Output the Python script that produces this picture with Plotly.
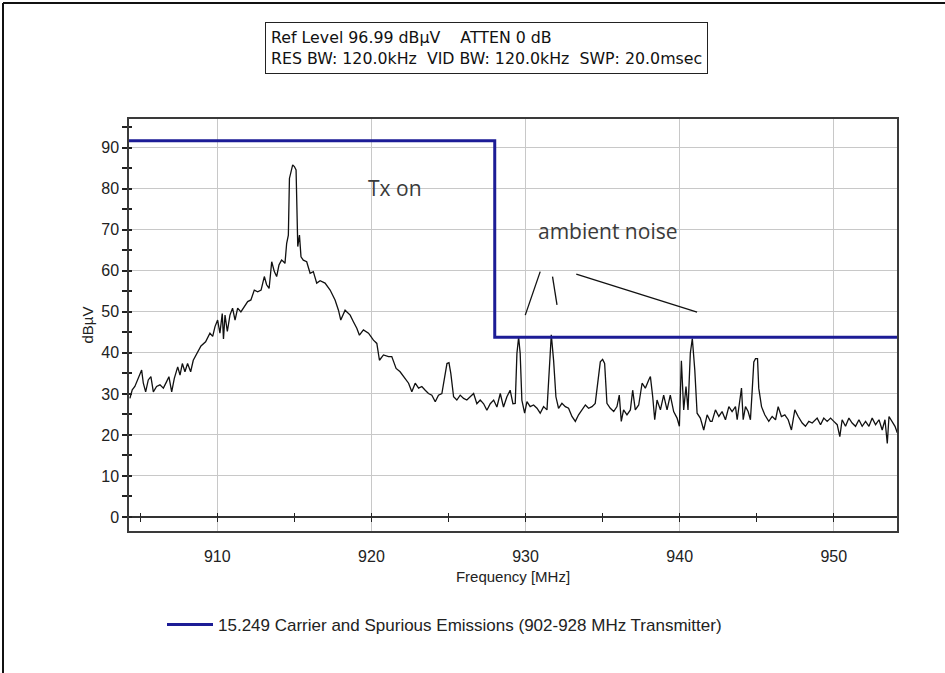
import plotly.graph_objects as go

# ---------------- data ----------------
freq_mhz = [
    904.33, 904.48, 904.65, 904.83, 904.98, 905.09, 905.20, 905.35, 905.52, 905.69,
    905.85, 906.06, 906.28, 906.50, 906.71, 906.86, 907.04, 907.21, 907.43, 907.58,
    907.73, 907.90, 908.07, 908.27, 908.44, 908.66, 908.94, 909.24, 909.52, 909.70,
    909.85, 910.02, 910.17, 910.32, 910.40, 910.50, 910.65, 910.82, 910.99, 911.15,
    911.32, 911.53, 911.75, 911.97, 912.18, 912.40, 912.62, 912.84, 913.05, 913.20,
    913.36, 913.53, 913.70, 913.85, 914.00, 914.17, 914.30, 914.39, 914.50, 914.61,
    914.68, 914.78, 914.89, 915.00, 915.11, 915.22, 915.33, 915.43, 915.58, 915.80,
    916.02, 916.23, 916.45, 916.67, 916.99, 917.32, 917.64, 917.86, 918.01, 918.29,
    918.62, 918.83, 919.05, 919.22, 919.48, 919.81, 920.13, 920.35, 920.52, 920.78,
    921.11, 921.32, 921.60, 921.86, 922.19, 922.41, 922.62, 922.84, 923.06, 923.27,
    923.49, 923.70, 923.92, 924.14, 924.35, 924.57, 924.72, 924.90, 925.03, 925.15,
    925.33, 925.54, 925.76, 925.98, 926.19, 926.41, 926.63, 926.84, 927.06, 927.28,
    927.49, 927.71, 927.93, 928.14, 928.36, 928.57, 928.79, 929.00, 929.18, 929.33,
    929.44, 929.55, 929.65, 929.76, 929.94, 930.09, 930.30, 930.52, 930.74, 930.95,
    931.17, 931.39, 931.54, 931.67, 931.82, 931.97, 932.14, 932.36, 932.58, 932.79,
    933.01, 933.23, 933.44, 933.66, 933.88, 934.09, 934.31, 934.52, 934.70, 934.85,
    935.00, 935.13, 935.28, 935.50, 935.72, 935.93, 936.08, 936.21, 936.36, 936.58,
    936.80, 936.95, 937.12, 937.34, 937.56, 937.77, 937.99, 938.10, 938.25, 938.38,
    938.53, 938.75, 938.96, 939.18, 939.39, 939.61, 939.83, 939.98, 940.11, 940.26,
    940.41, 940.54, 940.69, 940.82, 940.98, 941.13, 941.34, 941.56, 941.78, 941.99,
    942.10, 942.32, 942.54, 942.75, 942.97, 943.19, 943.40, 943.62, 943.73, 943.88,
    944.01, 944.12, 944.27, 944.44, 944.59, 944.70, 944.81, 944.92, 945.05, 945.13,
    945.31, 945.52, 945.78, 946.00, 946.22, 946.39, 946.60, 946.82, 947.04, 947.25,
    947.47, 947.69, 947.95, 948.16, 948.38, 948.60, 948.92, 949.14, 949.35, 949.57,
    949.79, 950.00, 950.22, 950.39, 950.54, 950.76, 950.98, 951.19, 951.41, 951.63,
    951.84, 952.06, 952.28, 952.49, 952.71, 952.93, 953.14, 953.32, 953.47, 953.58,
    953.79, 953.97, 954.12,
]
level_dbuv = [
    28.9, 31.0, 31.8, 33.4, 35.0, 35.8, 32.6, 30.5, 33.4, 34.2,
    30.5, 31.8, 32.2, 31.4, 33.0, 34.2, 30.5, 33.8, 36.6, 34.6,
    37.4, 35.4, 37.4, 35.4, 38.2, 39.9, 41.7, 42.7, 44.8, 44.0,
    46.4, 48.0, 44.8, 49.6, 43.4, 49.2, 45.2, 49.2, 50.9, 48.0,
    50.9, 50.0, 51.3, 52.5, 52.9, 55.3, 54.9, 55.3, 58.6, 56.6,
    55.7, 62.2, 59.8, 58.6, 61.4, 62.6, 62.2, 61.8, 66.7, 68.7,
    82.5, 83.8, 85.8, 85.4, 84.6, 65.9, 68.7, 63.4, 62.6, 62.2,
    59.4, 59.8, 57.0, 57.6, 57.0, 55.3, 52.9, 50.4, 48.0, 50.4,
    49.2, 47.6, 46.0, 44.3, 45.6, 44.8, 43.1, 42.3, 38.2, 39.5,
    39.1, 39.1, 36.2, 35.4, 33.8, 32.6, 30.5, 32.6, 31.4, 31.8,
    30.9, 30.1, 29.7, 28.1, 29.7, 30.1, 33.4, 37.4, 37.6, 35.0,
    29.3, 28.5, 29.7, 28.9, 28.5, 29.3, 30.1, 27.6, 28.5, 27.6,
    26.0, 27.6, 28.5, 26.8, 30.1, 26.8, 29.3, 30.9, 27.6, 27.7,
    39.9, 43.8, 39.9, 28.5, 25.3, 28.1, 26.9, 27.3, 26.5, 25.3,
    26.9, 26.1, 35.0, 44.4, 38.1, 29.3, 26.5, 27.7, 26.9, 26.5,
    24.5, 23.3, 24.9, 26.1, 27.3, 26.5, 26.9, 27.7, 33.8, 37.8,
    38.4, 37.4, 27.7, 26.5, 25.7, 26.9, 29.7, 23.3, 26.1, 24.9,
    26.1, 30.9, 26.1, 27.3, 32.6, 31.4, 33.4, 34.2, 29.3, 23.7,
    28.5, 26.1, 29.7, 26.1, 29.7, 25.7, 24.1, 22.1, 38.1, 26.1,
    31.8, 26.1, 39.9, 43.5, 35.8, 25.3, 24.1, 21.2, 24.9, 23.3,
    23.3, 26.1, 24.5, 25.7, 23.7, 26.9, 25.7, 26.9, 23.7, 28.1,
    31.4, 23.7, 26.9, 25.7, 23.7, 30.5, 37.8, 38.6, 38.6, 31.4,
    26.9, 24.9, 23.3, 24.5, 23.7, 26.9, 24.5, 24.9, 23.7, 21.2,
    26.1, 24.5, 22.9, 22.1, 23.3, 22.9, 24.1, 22.5, 24.1, 23.3,
    24.1, 23.3, 22.5, 19.6, 23.7, 22.1, 24.1, 22.9, 22.1, 23.7,
    22.1, 23.3, 22.1, 24.1, 22.5, 23.7, 21.2, 23.7, 17.9, 24.5,
    23.3, 22.1, 20.5,
]

limit_freq = [904.27, 928.0, 928.0, 954.1]
limit_level = [91.7, 91.7, 43.8, 43.8]
limit_name = "15.249 Carrier and Spurious Emissions (902-928 MHz Transmitter)"

x_range = [904.27, 954.1]
y_range = [-3.41, 96.99]
x_tick_vals = [910, 920, 930, 940, 950]
y_tick_vals = [0, 10, 20, 30, 40, 50, 60, 70, 80, 90]

header_lines = [
    "Ref Level 96.99 dBµV\u00a0\u00a0\u00a0\u00a0ATTEN 0 dB",
    "RES BW: 120.0kHz\u00a0\u00a0VID BW: 120.0kHz\u00a0\u00a0SWP: 20.0msec",
]

# pointer lines of the "ambient noise" note (data coords)
pointer_lines = [
    ((929.98, 49.2), (930.95, 59.8)),
    ((931.75, 58.6), (932.04, 51.7)),
    ((933.29, 59.2), (941.13, 49.9)),
]

# ---------------- figure ----------------
W, H = 945, 673
L, R, T, B = 129, 48, 119, 142
pw, ph = W - L - R, H - T - B


def px(xp):
    return (xp - L) / pw


def py(yp):
    return (H - B - yp) / ph


BASE = "Liberation Sans, Arial, sans-serif"
fig = go.Figure()

fig.add_trace(go.Scatter(
    x=freq_mhz, y=level_dbuv, mode="lines",
    line=dict(color="#111111", width=1.3), showlegend=False, hoverinfo="skip",
))
fig.add_trace(go.Scatter(
    x=limit_freq, y=limit_level, mode="lines", name=limit_name,
    line=dict(color="#1c1c96", width=3), showlegend=True,
))
# helper traces so that the tick-only overlay axes exist
fig.add_trace(go.Scatter(x=[], y=[], xaxis="x2", yaxis="y", showlegend=False, hoverinfo="skip"))
fig.add_trace(go.Scatter(x=[], y=[], xaxis="x3", yaxis="y", showlegend=False, hoverinfo="skip"))
fig.add_trace(go.Scatter(x=[], y=[], xaxis="x", yaxis="y2", showlegend=False, hoverinfo="skip"))

zero_pos = (0 - y_range[0]) / (y_range[1] - y_range[0])

fig.update_layout(
    width=W, height=H,
    margin=dict(l=L, r=R, t=T, b=B, pad=0),
    paper_bgcolor="white", plot_bgcolor="white",
    font=dict(family=BASE, size=15, color="#222222"),
    xaxis=dict(
        range=x_range, tickvals=x_tick_vals, ticks="", showgrid=True,
        gridcolor="#c8c8c8", gridwidth=1, showline=True, linecolor="#3a3a3a",
        linewidth=1.5, mirror=True, zeroline=False, ticklabelstandoff=10,
        title=dict(text="Frequency [MHz]", standoff=8, font=dict(size=15)),
        tickfont=dict(size=16),
    ),
    xaxis2=dict(
        overlaying="x", anchor="free", position=zero_pos, range=x_range,
        tick0=0, dtick=5, ticks="outside", ticklen=4, tickwidth=1,
        tickcolor="#222222", showticklabels=False, showgrid=False,
        showline=False, zeroline=False,
    ),
    xaxis3=dict(
        overlaying="x", anchor="free", position=zero_pos, range=x_range,
        tick0=0, dtick=5, ticks="inside", ticklen=4, tickwidth=1,
        tickcolor="#222222", showticklabels=False, showgrid=False,
        showline=False, zeroline=False,
    ),
    yaxis=dict(
        range=y_range, tickvals=y_tick_vals, ticks="outside", ticklen=5,
        tickwidth=1.5, tickcolor="#222222",
        minor=dict(dtick=5, tick0=0, ticks="outside", ticklen=5, tickwidth=1.5,
                   tickcolor="#222222", showgrid=False),
        showgrid=True, gridcolor="#c8c8c8", gridwidth=1,
        showline=True, linecolor="#3a3a3a", linewidth=1.5, mirror=True,
        zeroline=True, zerolinecolor="#333333", zerolinewidth=1.5,
        title=dict(text="dBµV", standoff=4, font=dict(size=15)),
        tickfont=dict(size=16),
    ),
    yaxis2=dict(
        overlaying="y", side="left", anchor="x", range=y_range,
        tick0=0, dtick=5, ticks="inside", ticklen=3, tickwidth=1.5,
        tickcolor="#222222", showticklabels=False, showgrid=False,
        showline=False, zeroline=False,
    ),
    legend=dict(
        x=px(162), y=py(625), xanchor="left", yanchor="middle",
        orientation="h", font=dict(size=17, color="#222222"),
        bgcolor="rgba(0,0,0,0)", itemwidth=46,
    ),
    showlegend=True,
)

# header info box
fig.add_annotation(
    xref="paper", yref="paper", x=px(265), y=py(22), xanchor="left", yanchor="top",
    text="<br>".join(header_lines), showarrow=False, align="left",
    font=dict(family="DejaVu Sans, sans-serif", size=15.8, color="#111111"),
    bordercolor="#222222", borderwidth=1, borderpad=5, bgcolor="white",
)

NOTE_FONT = dict(family="Open Sans, sans-serif", size=21, color="#3a3a3a")
fig.add_annotation(x=921.5, y=80.2, text="Tx on", showarrow=False, font=NOTE_FONT)
fig.add_annotation(x=935.34, y=69.7, text="ambient noise", showarrow=False, font=NOTE_FONT)

for (x0, y0), (x1, y1) in pointer_lines:
    fig.add_shape(type="line", x0=x0, y0=y0, x1=x1, y1=y1,
                  line=dict(color="#111111", width=1.3))

# window frame (top and left edges)
fig.add_shape(type="line", xref="paper", yref="paper", x0=px(3), y0=py(3), x1=px(W), y1=py(3),
              line=dict(color="#111111", width=2))
fig.add_shape(type="line", xref="paper", yref="paper", x0=px(3), y0=py(3), x1=px(3), y1=py(H),
              line=dict(color="#111111", width=2))

fig.write_html("out.html")
